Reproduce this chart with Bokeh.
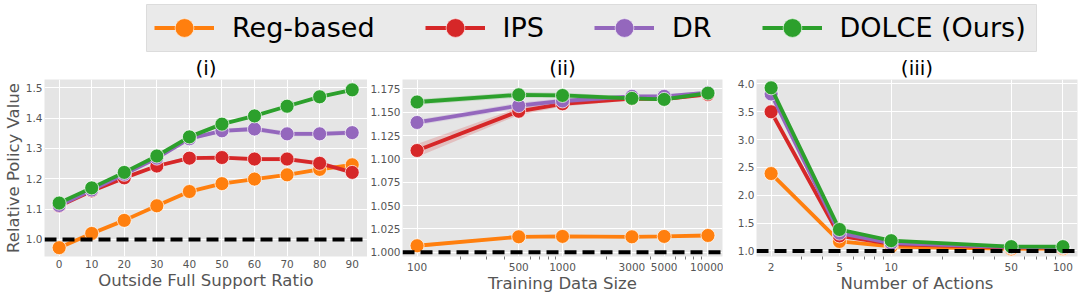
from bokeh.plotting import figure
from bokeh.layouts import column, row
from bokeh.models import (Span, Legend, LegendItem, FixedTicker, PrintfTickFormatter,
                          Range1d)
from bokeh.embed import file_html
from bokeh.resources import INLINE

# ---------------- data ----------------
methods = ["Reg-based", "IPS", "DR", "DOLCE (Ours)"]
colors = ["#ff7f0e", "#d62728", "#9467bd", "#2ca02c"]

# panel (i)
ratio = [0, 10, 20, 30, 40, 50, 60, 70, 80, 90]
i_reg = [0.973, 1.020, 1.063, 1.111, 1.158, 1.184, 1.199, 1.213, 1.231, 1.246]
i_ips = [1.110, 1.160, 1.203, 1.242, 1.268, 1.270, 1.265, 1.265, 1.251, 1.221]
i_dr = [1.112, 1.163, 1.215, 1.268, 1.332, 1.358, 1.364, 1.348, 1.348, 1.352]
i_dolce = [1.120, 1.170, 1.221, 1.275, 1.338, 1.380, 1.407, 1.439, 1.470, 1.493]
i_reg_err = [0.005, 0.004, 0.004, 0.004, 0.004, 0.004, 0.004, 0.004, 0.005, 0.005]
i_ips_err = [0.004, 0.004, 0.004, 0.005, 0.006, 0.006, 0.007, 0.007, 0.007, 0.007]
i_dr_err = [0.004, 0.004, 0.004, 0.004, 0.005, 0.006, 0.008, 0.008, 0.008, 0.008]
i_dolce_err = [0.003, 0.003, 0.003, 0.003, 0.003, 0.004, 0.004, 0.004, 0.004, 0.004]

# panel (ii)
data_size = [100, 500, 1000, 3000, 5000, 10000]
ii_reg = [1.007, 1.0166, 1.0170, 1.0166, 1.0170, 1.0180]
ii_ips = [1.109, 1.151, 1.159, 1.1645, 1.1640, 1.1690]
ii_dr = [1.139, 1.157, 1.162, 1.1670, 1.1670, 1.1710]
ii_dolce = [1.1609, 1.1686, 1.1679, 1.1648, 1.1637, 1.1704]
ii_reg_err = [0.002, 0.001, 0.001, 0.001, 0.001, 0.001]
ii_ips_err = [0.007, 0.004, 0.003, 0.002, 0.002, 0.002]
ii_dr_err = [0.003, 0.003, 0.003, 0.002, 0.002, 0.002]
ii_dolce_err = [0.003, 0.003, 0.003, 0.002, 0.002, 0.002]

# panel (iii)
n_actions = [2, 5, 10, 50, 100]
iii_reg = [2.39, 1.17, 1.08, 1.036, 1.040]
iii_ips = [3.50, 1.27, 1.125, 1.060, 1.060]
iii_dr = [3.82, 1.32, 1.140, 1.070, 1.070]
iii_dolce = [3.93, 1.385, 1.184, 1.077, 1.077]
iii_reg_err = [0.03, 0.02, 0.01, 0.01, 0.01]
iii_ips_err = [0.04, 0.02, 0.01, 0.01, 0.01]
iii_dr_err = [0.04, 0.02, 0.01, 0.01, 0.01]
iii_dolce_err = [0.03, 0.02, 0.01, 0.01, 0.01]

# tick labels
i_xticks = [0, 10, 20, 30, 40, 50, 60, 70, 80, 90]
i_yticks = [1.0, 1.1, 1.2, 1.3, 1.4, 1.5]
ii_xticks = [100, 500, 1000, 3000, 5000, 10000]
ii_xminor = [200, 300, 400, 600, 700, 800, 900, 2000, 4000, 6000, 7000, 8000, 9000]
ii_yticks = [1.000, 1.025, 1.050, 1.075, 1.100, 1.125, 1.150, 1.175]
iii_xticks = [2, 5, 10, 50, 100]
iii_xminor = [3, 4, 6, 7, 8, 9, 20, 30, 40, 60, 70, 80, 90]
iii_yticks = [1.0, 1.5, 2.0, 2.5, 3.0, 3.5, 4.0]

FONT = "DejaVu Sans"
BG = "#E5E5E5"
TICK_C = "#555555"
NAN = float("nan")


def panel(title, x, series, errs, xr, yr, xlabel, xticks, yticks, yfmt,
          log=False, xminor=None, ylabel=None, width=360,
          bl=33, br=2):
    p = figure(width=width, height=242, x_range=Range1d(*xr), y_range=Range1d(*yr),
               x_axis_type="log" if log else "linear",
               output_backend="svg", toolbar_location=None,
               min_border_left=bl, min_border_right=br,
               min_border_top=25, min_border_bottom=20,
               background_fill_color=BG, border_fill_color="white",
               outline_line_color=None, title=title)
    p.title.align = "center"
    p.title.text_font = FONT
    p.title.text_font_size = "20px"
    p.title.text_font_style = "normal"
    p.title.text_color = "black"
    p.title.standoff = 0

    p.grid.grid_line_color = "white"
    p.grid.grid_line_width = 1

    p.xaxis.ticker = FixedTicker(ticks=xticks, minor_ticks=xminor or [])
    if log:
        p.xaxis.formatter = PrintfTickFormatter(format="%d")
    p.yaxis.ticker = FixedTicker(ticks=yticks)
    p.yaxis.formatter = PrintfTickFormatter(format=yfmt)

    for ax in (p.xaxis, p.yaxis):
        ax.axis_line_color = None
        ax.major_tick_line_color = None
        ax.major_tick_out = 0
        ax.major_tick_in = 0
        ax.major_label_text_font = FONT
        ax.major_label_text_font_size = "10.5px"
        ax.major_label_text_color = TICK_C
        ax.major_label_standoff = 3
        ax.axis_label_text_font = FONT
        ax.axis_label_text_font_size = "16.5px"
        ax.axis_label_text_font_style = "normal"
        ax.axis_label_text_color = TICK_C
        ax.axis_label_standoff = 0
    p.yaxis.major_label_standoff = 2
    p.yaxis.minor_tick_line_color = None
    p.yaxis.minor_tick_out = 0
    if log:
        p.xaxis.minor_tick_line_color = "#777777"
        p.xaxis.minor_tick_out = 3
        p.xaxis.minor_tick_in = 0
    else:
        p.xaxis.minor_tick_line_color = None
        p.xaxis.minor_tick_out = 0
    p.xaxis.axis_label = xlabel
    if ylabel:
        p.yaxis.axis_label = ylabel

    for ys, es, c in zip(series, errs, colors):
        lo = [a - e for a, e in zip(ys, es)]
        hi = [a + e for a, e in zip(ys, es)]
        p.varea(x=x, y1=lo, y2=hi, fill_color=c, fill_alpha=0.2)
        p.line(x=x, y=ys, line_color=c, line_width=3.8)
        p.scatter(x=x, y=ys, size=14, fill_color=c, line_color="white",
                  line_alpha=0.7, line_width=1)

    p.add_layout(Span(location=1.0, dimension="width", line_color="black",
                      line_width=4, line_dash="12 6"))
    return p


p1 = panel("(i)", ratio, [i_reg, i_ips, i_dr, i_dolce],
           [i_reg_err, i_ips_err, i_dr_err, i_dolce_err],
           (-4.5, 94.7), (0.944, 1.527), "Outside Full Support Ratio",
           i_xticks, i_yticks, "%.1f", ylabel="Relative Policy Value",
           width=367, bl=40, br=0)
p2 = panel("(ii)", data_size, [ii_reg, ii_ips, ii_dr, ii_dolce],
           [ii_reg_err, ii_ips_err, ii_dr_err, ii_dolce_err],
           (79.4, 12589), (0.9955, 1.185), "Training Data Size",
           ii_xticks, ii_yticks, "%.3f", log=True, xminor=ii_xminor,
           width=356, bl=30, br=1)
p3 = panel("(iii)", n_actions, [iii_reg, iii_ips, iii_dr, iii_dolce],
           [iii_reg_err, iii_ips_err, iii_dr_err, iii_dolce_err],
           (1.644, 121.6), (0.90, 4.08), "Number of Actions",
           iii_xticks, iii_yticks, "%.1f", log=True, xminor=iii_xminor,
           width=357, bl=33, br=3)

# ---------------- legend strip ----------------
pl = figure(width=1080, height=53, x_range=Range1d(0, 1), y_range=Range1d(0, 1),
            output_backend="svg", toolbar_location=None,
            min_border_left=146, min_border_right=44, min_border_top=4,
            min_border_bottom=2, background_fill_color="#EAEAEA",
            border_fill_color="white", outline_line_color="#DCDCDC")
pl.axis.visible = False
pl.grid.visible = False
items = []
for name, c in zip(methods, colors):
    rl = pl.line(x=[NAN], y=[NAN], line_color=c, line_width=4)
    rs = pl.scatter(x=[NAN], y=[NAN], fill_color=c, line_color="white",
                    line_alpha=0.6, line_width=1)
    items.append(LegendItem(label=name, renderers=[rl, rs]))
leg = Legend(items=items, orientation="horizontal", location=(8, 0), margin=0,
             padding=0, spacing=50, glyph_width=60, glyph_height=47,
             label_standoff=18, label_text_font=FONT, label_text_font_size="27px",
             label_text_color="black", background_fill_alpha=0,
             border_line_color=None)
pl.add_layout(leg)

layout = column(pl, row(p1, p2, p3, spacing=0), spacing=0)
open("out.html", "w").write(file_html(layout, INLINE))
